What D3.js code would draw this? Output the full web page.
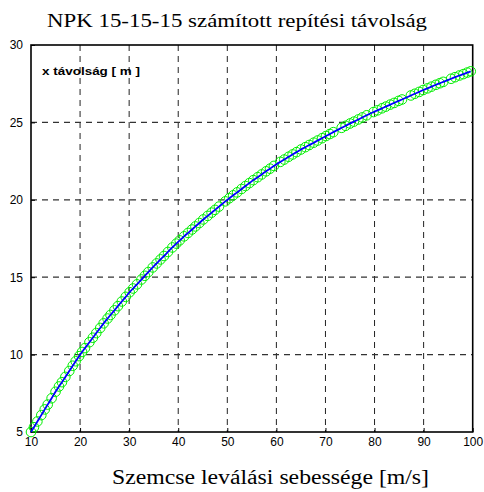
<!DOCTYPE html>
<html>
<head>
<meta charset="utf-8">
<script src="https://cdn.jsdelivr.net/npm/d3@7"></script>
<style>
  html, body { margin: 0; padding: 0; background: #fff; }
  svg { display: block; }
</style>
</head>
<body>
<svg id="chart" width="484" height="492"></svg>
<script>
// Computed throw distance (m) versus particle release speed (m/s)
const speed = [
  10.0, 10.6, 11.3, 12.1, 12.8, 13.4, 14.2, 15.0, 15.7, 16.3, 17.0, 17.8, 18.5, 19.1, 19.8,
  20.4, 21.0, 21.9, 22.6, 23.3, 24.1, 24.8, 25.6, 26.2, 27.0, 27.7, 28.5, 29.3,
  30.1, 30.8, 31.6, 32.5, 33.2, 33.9, 34.8, 35.6, 36.4, 37.1, 37.9, 38.8, 39.6,
  40.3, 41.2, 42.0, 42.8, 43.5, 44.3, 45.1, 46.0, 46.8, 47.5, 48.3, 49.6,
  50.4, 51.2, 52.0, 52.9, 53.7, 54.5, 55.3, 56.2, 57.0, 57.9, 58.7, 59.5,
  60.8, 61.6, 62.5, 63.3, 64.1, 65.0, 65.9, 66.7, 67.6, 68.4, 69.3,
  70.1, 70.9, 71.6, 73.3, 74.1, 75.0, 75.8, 76.7, 77.5, 78.4, 79.8,
  80.6, 81.5, 82.3, 83.2, 84.0, 84.9, 85.6, 87.4, 88.2, 89.1, 89.9,
  90.8, 91.6, 92.5, 93.3, 94.0, 95.6, 96.4, 97.3, 98.1, 98.9, 99.6
];
const distance = [
  5.00, 5.31, 5.68, 6.09, 6.46, 6.77, 7.18, 7.60, 7.94, 8.22, 8.56, 8.94, 9.28, 9.57, 9.90,
  10.17, 10.42, 10.80, 11.09, 11.39, 11.72, 12.02, 12.33, 12.56, 12.86, 13.13, 13.43, 13.73,
  14.03, 14.27, 14.54, 14.85, 15.09, 15.33, 15.63, 15.89, 16.15, 16.37, 16.63, 16.92, 17.17,
  17.38, 17.64, 17.86, 18.08, 18.28, 18.50, 18.73, 18.96, 19.17, 19.35, 19.56, 19.90,
  20.10, 20.29, 20.48, 20.70, 20.89, 21.08, 21.27, 21.46, 21.64, 21.84, 22.01, 22.19,
  22.45, 22.60, 22.78, 22.93, 23.08, 23.25, 23.40, 23.54, 23.69, 23.83, 23.98,
  24.12, 24.25, 24.37, 24.65, 24.78, 24.93, 25.05, 25.19, 25.32, 25.46, 25.67,
  25.78, 25.91, 26.02, 26.15, 26.26, 26.39, 26.48, 26.74, 26.85, 26.97, 27.09,
  27.20, 27.31, 27.43, 27.53, 27.62, 27.82, 27.92, 28.03, 28.12, 28.22, 28.30
];
const xTicks = [10, 20, 30, 40, 50, 60, 70, 80, 90, 100];
const yTicks = [5, 10, 15, 20, 25, 30];

const titleText = "NPK 15-15-15 számított repítési távolság";
const xLabelText = "Szemcse leválási sebessége [m/s]";
const yLabelText = "x távolság [ m ]";

const svg = d3.select("#chart");
const plot = { left: 31, top: 45, right: 472.7, bottom: 432 };

const x = d3.scaleLinear().domain([10, 100]).range([plot.left, plot.right]);
const y = d3.scaleLinear().domain([5, 30]).range([plot.bottom, plot.top]);

const points = speed.map((s, i) => ({ s, d: distance[i] }));

// dashed grid
const grid = svg.append("g");
grid.selectAll("line.gx").data(xTicks.slice(1, -1)).enter().append("line")
  .attr("x1", d => x(d)).attr("x2", d => x(d))
  .attr("y1", plot.top).attr("y2", plot.bottom)
  .attr("stroke", "#222").attr("stroke-width", 1).attr("stroke-dasharray", "6,5");
grid.selectAll("line.gy").data(yTicks.slice(1, -1)).enter().append("line")
  .attr("y1", d => y(d)).attr("y2", d => y(d))
  .attr("x1", plot.left).attr("x2", plot.right)
  .attr("stroke", "#333").attr("stroke-width", 1.2).attr("stroke-dasharray", "6,5");

// axes
const xAxis = d3.axisBottom(x).tickValues(xTicks).tickSize(-4).tickPadding(9);
const yAxis = d3.axisLeft(y).tickValues(yTicks).tickSize(-4).tickPadding(8);

const gx = svg.append("g").attr("transform", `translate(0,${plot.bottom})`).call(xAxis);
const gy = svg.append("g").attr("transform", `translate(${plot.left},0)`).call(yAxis);
[gx, gy].forEach(g => {
  g.select(".domain").remove();
  g.selectAll(".tick line").attr("stroke", "#000");
  g.selectAll("text").attr("font-family", "Arial, 'Liberation Sans', sans-serif")
    .attr("font-size", 12).attr("fill", "#000");
});
gx.selectAll("text").attr("dy", "0.45em");

// frame
svg.append("rect")
  .attr("x", plot.left).attr("y", plot.top)
  .attr("width", plot.right - plot.left).attr("height", plot.bottom - plot.top)
  .attr("fill", "none").attr("stroke", "#000").attr("stroke-width", 1.6);

// sample points
svg.append("g").selectAll("circle").data(points).enter().append("circle")
  .attr("cx", d => x(d.s)).attr("cy", d => y(d.d)).attr("r", 4.8)
  .attr("fill", "none").attr("stroke", "#00ee00").attr("stroke-width", 1);

// fitted curve
const line = d3.line().x(d => x(d.s)).y(d => y(d.d)).curve(d3.curveMonotoneX);
svg.append("path").datum(points)
  .attr("d", line).attr("fill", "none")
  .attr("stroke", "#0000ff").attr("stroke-width", 1.8);

// texts (stretched horizontally to the figure's wide lettering)
svg.append("text").attr("x", 47).attr("y", 27)
  .attr("font-family", "'Times New Roman', 'Liberation Serif', serif")
  .attr("font-size", 18.5)
  .attr("textLength", 380).attr("lengthAdjust", "spacingAndGlyphs")
  .text(titleText);

svg.append("text").attr("x", 112).attr("y", 484)
  .attr("font-family", "'Times New Roman', 'Liberation Serif', serif")
  .attr("font-size", 20.5)
  .attr("textLength", 317).attr("lengthAdjust", "spacingAndGlyphs")
  .text(xLabelText);

svg.append("text").attr("x", 42).attr("y", 75).attr("font-weight", "bold")
  .attr("font-family", "Arial, 'Liberation Sans', sans-serif")
  .attr("font-size", 11.5)
  .attr("textLength", 98).attr("lengthAdjust", "spacingAndGlyphs")
  .text(yLabelText);
</script>
</body>
</html>
